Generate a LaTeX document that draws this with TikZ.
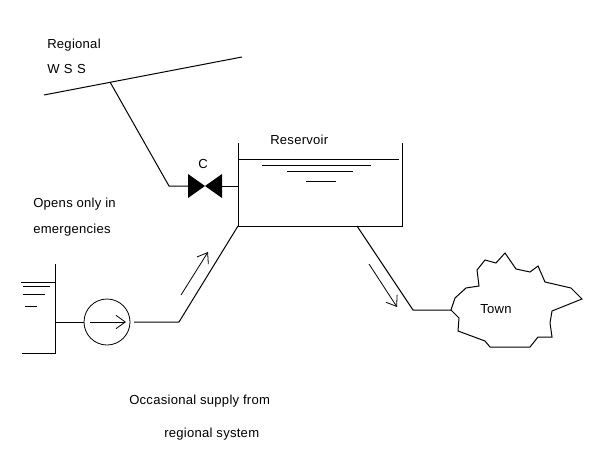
\documentclass[tikz,border=0pt]{standalone}
\usepackage{fontspec}
\setmainfont{Liberation Sans}[LetterSpace=2]
\usetikzlibrary{arrows.meta,positioning}
\tikzset{
  pipe/.style={line width=0.75pt,black},
  flow/.style={line width=0.6pt,black,-{Straight Barb[length=7pt,width=10pt,line width=0.6pt]}},
  lbl/.style={font=\fontsize{9.8}{11}\selectfont,anchor=west,inner sep=0pt,yshift=-0.75pt}
}
\begin{document}
\begin{tikzpicture}[x=0.75pt,y=-0.75pt]
  \useasboundingbox (0,0) rectangle (602,460);

  % Regional main and branch to the valve
  \coordinate (mainL) at (44,95);
  \coordinate (mainR) at (242,57);
  \coordinate (tee) at (110,82);
  \coordinate (bend) at (169,186);
  \coordinate (valve) at (205,186);
  \coordinate (valveL) at (188,186);
  \coordinate (valveR) at (222,186);
  \coordinate (inlet) at (238,186);
  \draw[pipe] (mainL) -- (mainR);
  \draw[pipe] (tee) -- (bend) -- (valveL);
  \draw[pipe] (valveR) -- (inlet);
  \fill (valve) -- (valveL |- 0,174) -- (valveL |- 0,198) -- cycle;
  \fill (valve) -- (valveR |- 0,174) -- (valveR |- 0,198) -- cycle;
  \node[lbl] (regional) at (47,44) {Regional};
  \node[lbl] (wss) at (47,68) {W\,\,S\,\,S};
  \node[lbl,anchor=center] (valvelbl) at (203,163) {C};

  % Reservoir
  \coordinate (resTL) at (238,143);
  \coordinate (resBL) at (238,226);
  \coordinate (resBR) at (402,226);
  \coordinate (resTR) at (402,143);
  \draw[pipe] (resTL) -- (resBL) -- (resBR) -- (resTR);
  \draw[pipe] (238,159) -- (399,159);
  \draw[pipe] (262,165) -- (371,165);
  \draw[pipe] (287,171.5) -- (353,171.5);
  \draw[pipe] (306,181) -- (336,181);
  \node[lbl] (reservoir) at (270,139) {Reservoir};

  % Sump and pump
  \draw[pipe] (55,264) -- (55,353) -- (22,353);
  \draw[pipe] (21,282) -- (55,282);
  \draw[pipe] (23,286) -- (50,286);
  \draw[pipe] (23,294) -- (45,294);
  \draw[pipe] (25,306) -- (37,306);
  \node[draw,circle,line width=0.6pt,minimum size=34.5pt,inner sep=0pt] (pump) at (107,322) {};
  \coordinate (sump) at (55,322);
  \coordinate (pumpout) at (134,322);
  \coordinate (knee) at (179,322);
  \draw[pipe] (sump) -- (pump);
  \draw[flow] (90,322) -- (126,322);
  \draw[pipe] (pumpout) -- (knee) -- (resBL);
  \draw[flow] (181,295) -- (208,252);
  \node[lbl] (opens) at (33,203) {Opens only in};
  \node[lbl] (emerg) at (33,229) {emergencies};

  % Outflow to the town
  \coordinate (outlet) at (357,226);
  \coordinate (elbow) at (413,310);
  \coordinate (towngate) at (451,310);
  \draw[pipe] (outlet) -- (elbow) -- (towngate);
  \draw[flow] (369,264) -- (397,307);
  \draw[pipe] (towngate) -- (455,298) -- (466,288) -- (479,286) -- (477,270) -- (485,260)
    -- (496,263) -- (505,253) -- (516,269) -- (530,272) -- (538,266) -- (545,282)
    -- (571,288) -- (582,299) -- (552,311) -- (550,323) -- (552,337) -- (538,337)
    -- (530,347) -- (490,347) -- (485,341) -- (458,331) -- (459,318) -- cycle;
  \node[lbl] (town) at (480,308) {Town};

  % Bottom note
  \node[lbl] (occasional) at (129,400) {Occasional supply from};
  \node[lbl] (regsys) at (164,433) {regional system};
\end{tikzpicture}
\end{document}
